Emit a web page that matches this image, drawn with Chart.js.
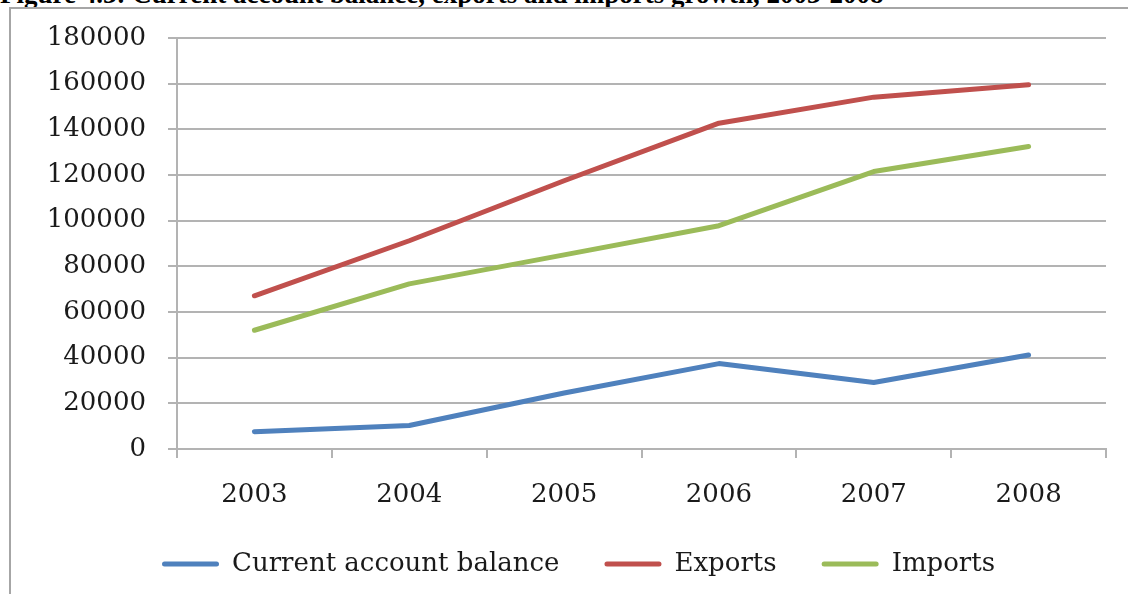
<!DOCTYPE html>
<html>
<head>
<meta charset="utf-8">
<script src="https://cdn.jsdelivr.net/npm/chart.js@4"></script>
<style>
  html, body { margin: 0; padding: 0; background: #fff; }
  body { width: 1128px; height: 594px; position: relative; overflow: hidden; }
  #title { position: absolute; left: 0; top: -19.5px; font: bold 27px "Liberation Serif", "Times New Roman", serif; line-height: 27px; white-space: nowrap; color: #000; }
  #frame { position: absolute; left: 9px; top: 7px; width: 1200px; height: 700px; border: 2px solid #a6a6a6; box-sizing: border-box; }
  #c { position: absolute; left: 0; top: 0; }
</style>
</head>
<body>
<div id="title">Figure 4.3: Current account balance, exports and imports growth, 2003-2008</div>
<div id="frame"></div>
<canvas id="c" width="1128" height="594"></canvas>
<script>
const categories = ["2003", "2004", "2005", "2006", "2007", "2008"];
const currentAccount = [7600, 10300, 24500, 37400, 29100, 41200];
const exportsData = [67100, 91200, 117500, 142700, 154100, 159500];
const importsData = [52000, 72300, 85000, 97800, 121500, 132500];
const seriesNames = ["Current account balance", "Exports", "Imports"];
const seriesColors = ["#4f81bd", "#c0504d", "#9bbb59"];
const yTickMin = 0, yTickMax = 180000, yTickStep = 20000;

const gridColor = "#b3b3b3";
const tickFont = { family: "'DejaVu Serif', serif", size: 26 };
const legendFont = { family: "'DejaVu Serif', serif", size: 26 };
const legendPadding = 45;
const legendStartX = 162;

function ds(label, data, color) {
  return {
    label, data,
    borderColor: color, backgroundColor: color,
    borderWidth: 5, pointRadius: 0, pointHoverRadius: 0,
    tension: 0, borderCapStyle: "round", borderJoinStyle: "round"
  };
}

const legendShift = {
  id: "legendShift",
  afterLayout(chart) {
    if (chart.legend) {
      const w = chart.legend.right - chart.legend.left;
      chart.legend.left = legendStartX - legendPadding;
      chart.legend.right = chart.legend.left + w;
    }
  }
};

new Chart(document.getElementById("c"), {
  type: "line",
  data: {
    labels: categories,
    datasets: [
      ds(seriesNames[0], currentAccount, seriesColors[0]),
      ds(seriesNames[1], exportsData, seriesColors[1]),
      ds(seriesNames[2], importsData, seriesColors[2])
    ]
  },
  plugins: [legendShift],
  options: {
    responsive: false,
    animation: false,
    events: [],
    layout: { padding: { left: 0, right: 22, top: 38, bottom: 7 } },
    scales: {
      x: {
        type: "category",
        offset: true,
        grid: { offset: true, drawOnChartArea: false, drawTicks: true, tickLength: 9, color: gridColor, lineWidth: 2 },
        border: { display: true, color: gridColor, width: 2 },
        ticks: { font: tickFont, color: "#1a1a1a", padding: 22, maxRotation: 0 },
        afterFit: (s) => { s.height = 57; }
      },
      y: {
        min: yTickMin, max: yTickMax,
        grid: { drawTicks: true, tickLength: 9, color: gridColor, lineWidth: 2 },
        border: { display: true, color: gridColor, width: 2 },
        ticks: { stepSize: yTickStep, font: tickFont, color: "#1a1a1a", padding: 22, callback: (v) => String(v) },
        afterFit: (s) => { s.width = 177; }
      }
    },
    plugins: {
      title: { display: false },
      tooltip: { enabled: false },
      legend: {
        display: true,
        position: "bottom",
        align: "start",
        labels: {
          font: legendFont,
          color: "#1a1a1a",
          boxWidth: 57,
          boxHeight: 5,
          padding: legendPadding,
          useBorderRadius: true,
          borderRadius: 2.5,
          generateLabels: (chart) => {
            const items = Chart.defaults.plugins.legend.labels.generateLabels(chart);
            items.forEach((it) => { it.lineWidth = 0; it.fillStyle = it.strokeStyle; });
            return items;
          }
        }
      }
    }
  }
});
</script>
</body>
</html>
